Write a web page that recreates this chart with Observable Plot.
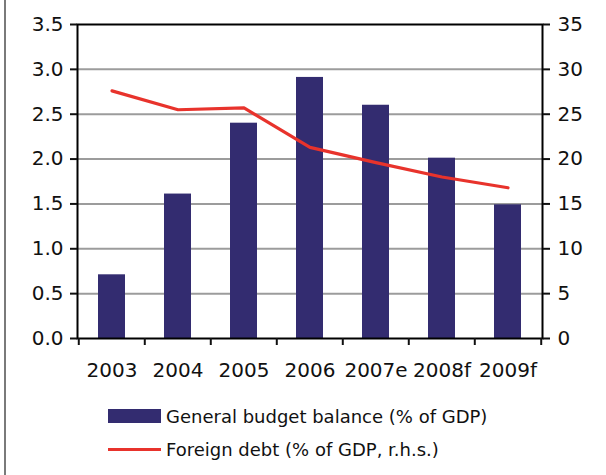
<!DOCTYPE html>
<html>
<head>
<meta charset="utf-8">
<script src="https://cdn.jsdelivr.net/npm/d3@7"></script>
<script src="https://cdn.jsdelivr.net/npm/@observablehq/plot@0.6"></script>
<style>
  html, body { margin: 0; padding: 0; background: white; }
  #wrap { position: relative; width: 606px; height: 475px; overflow: hidden; font-family: "DejaVu Sans", sans-serif; color: #111; }
  #border { position: absolute; left: 4px; top: 0; width: 2px; height: 475px; background: #7a7a7a; }
  .row { position: absolute; left: 108px; height: 24px; display: flex; align-items: center; font-size: 18px; white-space: nowrap; }
  .sw-bar { width: 53px; height: 14px; background: #332c70; margin-right: 5px; }
  .sw-line { width: 53px; height: 3px; background: #e8332c; margin-right: 5px; }
</style>
</head>
<body>
<div id="wrap">
  <div id="border"></div>
  <div id="chart"></div>
  <div class="row" style="top:404px"><div class="sw-bar"></div><span>General budget balance (% of GDP)</span></div>
  <div class="row" style="top:437px"><div class="sw-line"></div><span>Foreign debt (% of GDP, r.h.s.)</span></div>
</div>
<script>
const years = ["2003", "2004", "2005", "2006", "2007e", "2008f", "2009f"];
const budgetBalance = [0.71, 1.61, 2.40, 2.91, 2.60, 2.01, 1.49];
const foreignDebt = [27.6, 25.5, 25.7, 21.3, 19.6, 18.0, 16.8];
const leftTicks = [0, 0.5, 1.0, 1.5, 2.0, 2.5, 3.0, 3.5];
const rightTicks = [0, 5, 10, 15, 20, 25, 30, 35];

const data = years.map((y, i) => ({year: y, budget: budgetBalance[i], debt: foreignDebt[i]}));
const ratio = 3.5 / 35;

const W = 606, H = 395, ML = 77, MR = 64, MT = 24, MB = 57;
const step = (W - ML - MR) / years.length;

const chart = Plot.plot({
  width: W, height: H,
  marginLeft: ML, marginRight: MR, marginTop: MT, marginBottom: MB,
  style: {fontFamily: "DejaVu Sans", fontSize: "20px", color: "#111", background: "white", overflow: "visible"},
  x: {domain: years, paddingInner: 0.59, paddingOuter: 0.295, label: null},
  y: {domain: [0, 3.5], label: null},
  marks: [
    Plot.ruleY(leftTicks.slice(1, -1), {stroke: "#9c9c9c", strokeWidth: 2}),
    Plot.barY(data, {x: "year", y: "budget", fill: "#332c70"}),
    Plot.line(data, {x: "year", y: d => d.debt * ratio, stroke: "#e8332c", strokeWidth: 3.2}),
    Plot.frame({stroke: "black", strokeWidth: 2}),
    Plot.axisY({ticks: leftTicks, anchor: "left", tickSize: 7, tickPadding: 7, tickFormat: d3.format(".1f"), label: null, strokeWidth: 2}),
    Plot.axisY({ticks: rightTicks.map(d => d * ratio), anchor: "right", tickSize: 7, tickPadding: 8, tickFormat: d => String(Math.round(d / ratio)), label: null, strokeWidth: 2}),
    Plot.axisX({tickSize: 0, tickPadding: 24, label: null}),
    Plot.axisX({tickSize: 7, tickFormat: () => "", label: null, dx: -step / 2, strokeWidth: 2}),
    Plot.axisX({ticks: [years[years.length - 1]], tickSize: 7, tickFormat: () => "", label: null, dx: step / 2, strokeWidth: 2})
  ]
});
document.getElementById("chart").appendChild(chart);
</script>
</body>
</html>
